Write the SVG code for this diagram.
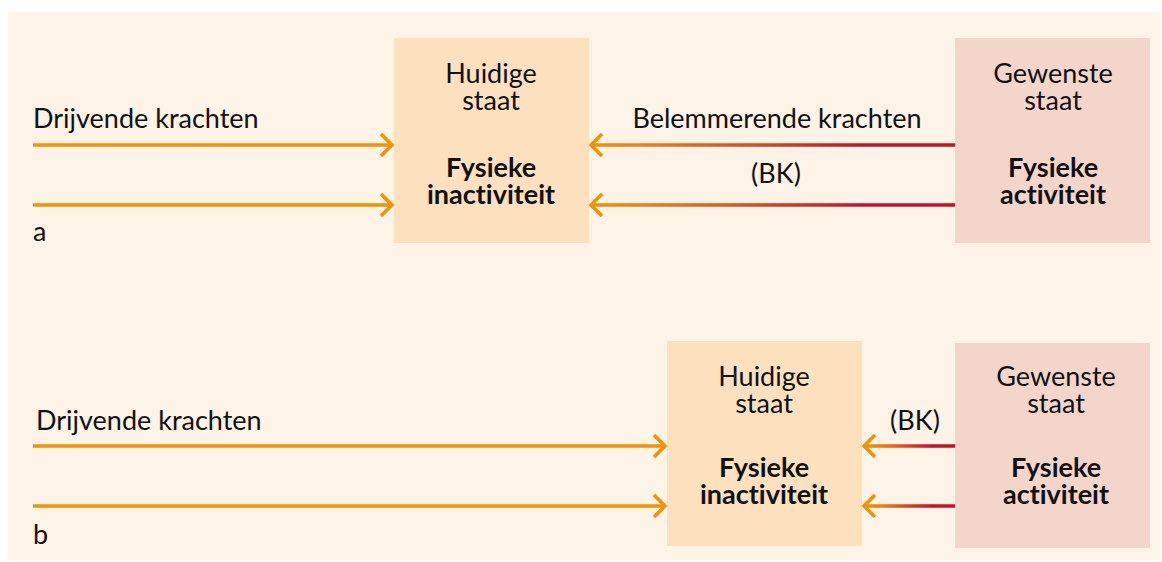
<svg xmlns="http://www.w3.org/2000/svg" width="1162" height="562" viewBox="0 0 1162 562">
  <style>
    .txt { font-family: Lato, "Open Sans", sans-serif; font-size: 27px; fill: #111; font-variant-ligatures: none; }
    .mid { text-anchor: middle; }
    .bold { font-weight: bold; }
    .cur { fill: #FDE1BE; }
    .goal { fill: #F4D5CA; }
    .drive { stroke: #F39200; stroke-width: 3.5; fill: none; marker-end: url(#head); }
    .hold-a { stroke: url(#gradA); stroke-width: 3.5; fill: none; marker-end: url(#head); }
    .hold-b { stroke: url(#gradB); stroke-width: 3.5; fill: none; marker-end: url(#head); }
  </style>
  <defs>
    <marker id="head" markerUnits="userSpaceOnUse" markerWidth="16" markerHeight="28" refX="13" refY="13" orient="auto" overflow="visible">
      <path d="M2,2 L13,13 L2,24" fill="none" stroke="#F39200" stroke-width="3.5"/>
    </marker>
    <linearGradient id="gradA" gradientUnits="userSpaceOnUse" x1="590" y1="0" x2="955" y2="0">
      <stop offset="0" stop-color="#F39200"/>
      <stop offset="0.15" stop-color="#EF7F10"/>
      <stop offset="0.75" stop-color="#C8102E"/>
      <stop offset="1" stop-color="#C8102E"/>
    </linearGradient>
    <linearGradient id="gradB" gradientUnits="userSpaceOnUse" x1="863" y1="0" x2="955" y2="0">
      <stop offset="0" stop-color="#F39200"/>
      <stop offset="0.2" stop-color="#EF7F10"/>
      <stop offset="0.75" stop-color="#C8102E"/>
      <stop offset="1" stop-color="#C8102E"/>
    </linearGradient>
  </defs>

  <!-- background panel -->
  <rect x="8" y="12" width="1152" height="548" fill="#FDF3E7"/>

  <!-- part a -->
  <g id="a-current">
    <rect class="cur" x="394" y="38" width="195" height="205"/>
    <text class="txt mid" x="491" y="83">Huidige</text>
    <text class="txt mid" x="491" y="110">staat</text>
    <text class="txt mid bold" x="491" y="177">Fysieke</text>
    <text class="txt mid bold" x="491" y="204">inactiviteit</text>
  </g>
  <g id="a-desired">
    <rect class="goal" x="955" y="38" width="195" height="205"/>
    <text class="txt mid" x="1053" y="83">Gewenste</text>
    <text class="txt mid" x="1053" y="110">staat</text>
    <text class="txt mid bold" x="1053" y="177">Fysieke</text>
    <text class="txt mid bold" x="1053" y="204">activiteit</text>
  </g>

  <!-- part b -->
  <g id="b-current">
    <rect class="cur" x="667" y="341" width="195" height="205"/>
    <text class="txt mid" x="764" y="386">Huidige</text>
    <text class="txt mid" x="764" y="413">staat</text>
    <text class="txt mid bold" x="764" y="477">Fysieke</text>
    <text class="txt mid bold" x="764" y="504">inactiviteit</text>
  </g>
  <g id="b-desired">
    <rect class="goal" x="955" y="343" width="195" height="205"/>
    <text class="txt mid" x="1056" y="386">Gewenste</text>
    <text class="txt mid" x="1056" y="413">staat</text>
    <text class="txt mid bold" x="1056" y="477">Fysieke</text>
    <text class="txt mid bold" x="1056" y="504">activiteit</text>
  </g>

  <!-- forces -->
  <g id="connectors">
    <path class="drive" d="M33,145 H392"/>
    <path class="drive" d="M33,205 H392"/>
    <path class="hold-a" d="M955,145 H591"/>
    <path class="hold-a" d="M955,205 H591"/>
    <path class="drive" d="M33,446 H665"/>
    <path class="drive" d="M33,506 H665"/>
    <path class="hold-b" d="M955,446 H864"/>
    <path class="hold-b" d="M955,506 H864"/>
  </g>

  <!-- labels -->
  <g id="labels">
    <text class="txt" x="33" y="128">Drijvende krachten</text>
    <text class="txt" x="33" y="241">a</text>
    <text class="txt mid" x="777" y="128">Belemmerende krachten</text>
    <text class="txt mid" x="776" y="183">(BK)</text>
    <text class="txt" x="36" y="430">Drijvende krachten</text>
    <text class="txt" x="33" y="544">b</text>
    <text class="txt mid" x="915" y="430">(BK)</text>
  </g>
</svg>
